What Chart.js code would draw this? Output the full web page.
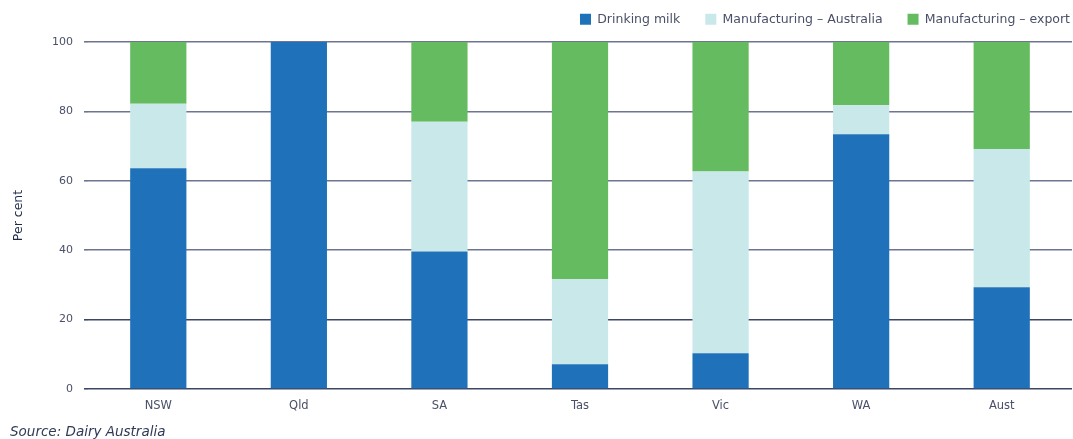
<!DOCTYPE html>
<html>
<head>
<meta charset="utf-8">
<script src="https://cdn.jsdelivr.net/npm/chart.js@4.4.1/dist/chart.umd.min.js"></script>
<style>
  html, body { margin: 0; padding: 0; background: #fff; }
  #wrap { position: relative; width: 1073px; height: 439px; overflow: hidden; }
  #c { position: absolute; left: 0; top: 0; }
  #src { position: absolute; left: 10px; top: 423px; font-family: "DejaVu Sans", sans-serif; font-style: italic; font-size: 13.5px; line-height: 17px; color: #2f3a55; }
</style>
</head>
<body>
<div id="wrap">
  <canvas id="c" width="1073" height="439"></canvas>
  <div id="src">Source: Dairy Australia</div>
</div>
<script>
const categories = ["NSW", "Qld", "SA", "Tas", "Vic", "WA", "Aust"];
const drinkingMilk = [63.6, 100, 39.6, 7.1, 10.3, 73.4, 29.3];
const manufacturingAustralia = [18.6, 0, 37.4, 24.5, 52.4, 8.4, 39.9];
const manufacturingExport = [17.8, 0, 23.0, 68.4, 37.3, 18.2, 30.8];
const yTicks = [0, 20, 40, 60, 80, 100];
const seriesNames = ["Drinking milk", "Manufacturing \u2013 Australia", "Manufacturing \u2013 export"];
const seriesColors = ["#1f72ba", "#c9e8ea", "#65bc60"];

const FONT = '"DejaVu Sans", sans-serif';

const legendTweak = {
  id: 'legendTweak',
  beforeLayout(chart) {
    const lg = chart.legend;
    if (!lg || lg._tweaked) return;
    lg._tweaked = true;
    const fit = lg.fit.bind(lg);
    lg.fit = function () { fit(); this.height -= 5.5; };
    const draw = lg.draw.bind(lg);
    lg.draw = function () {
      const c = this.ctx; c.save(); c.translate(23, -12); draw(); c.restore();
    };
  }
};

const ctx = document.getElementById('c');
new Chart(ctx, {
  type: 'bar',
  data: {
    labels: categories,
    datasets: [drinkingMilk, manufacturingAustralia, manufacturingExport].map((d, i) => ({
      label: seriesNames[i],
      data: d,
      backgroundColor: seriesColors[i],
      borderWidth: 0,
      barPercentage: 0.4,
      categoryPercentage: 1.0
    }))
  },
  plugins: [legendTweak],
  options: {
    responsive: false,
    animation: false,
    devicePixelRatio: 1,
    layout: { padding: { left: 0, right: 1, top: 0, bottom: 0 } },
    plugins: {
      legend: {
        position: 'top',
        align: 'end',
        labels: {
          boxWidth: 11,
          boxHeight: 11,
          padding: 25,
          color: '#4a5068',
          font: { family: FONT, size: 12.5 }
        }
      },
      tooltip: { enabled: false }
    },
    scales: {
      x: {
        stacked: true,
        grid: { display: false, drawTicks: false },
        border: { display: false },
        ticks: { color: '#4a5068', padding: 10, font: { family: FONT, size: 11.5 } },
        afterFit: (s) => { s.height = 50; }
      },
      y: {
        stacked: true,
        min: 0,
        max: 100,
        afterBuildTicks: (s) => { s.ticks = yTicks.map(v => ({ value: v })); },
        grid: {
          color: (c) => (c.tick && c.tick.value <= 20) ? '#3c4766' : '#6d7590',
          lineWidth: 1.6,
          drawTicks: true,
          tickLength: 4
        },
        border: { display: false },
        ticks: { color: '#4a5068', padding: 11, font: { family: FONT, size: 11 } },
        title: {
          display: true,
          text: 'Per cent',
          color: '#1e2a48',
          font: { family: FONT, size: 12.5 },
          padding: { top: 11, bottom: 0 }
        },
        afterFit: (s) => { s.width = 88; }
      }
    }
  }
});
</script>
</body>
</html>
